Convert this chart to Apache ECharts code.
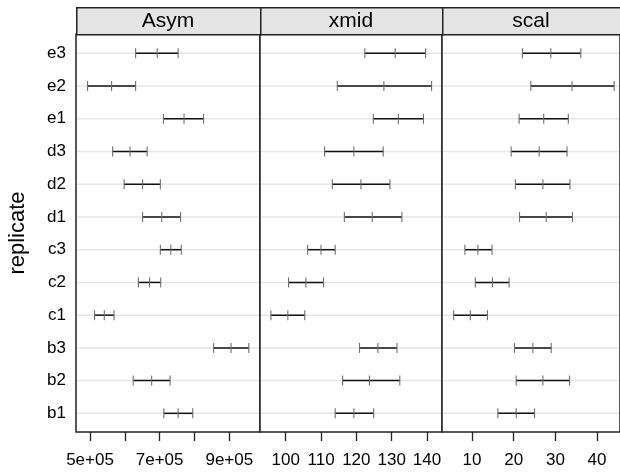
<!DOCTYPE html>
<html>
<head>
<meta charset="utf-8">
<script src="https://cdn.jsdelivr.net/npm/echarts@6/dist/echarts.min.js"></script>
<style>
  html, body { margin: 0; padding: 0; background: #fff; }
  #chart { width: 620px; height: 474px; }
</style>
</head>
<body>
<div id="chart"></div>
<script>
// Replicates, bottom to top
const categories = ['b1', 'b2', 'b3', 'c1', 'c2', 'c3', 'd1', 'd2', 'd3', 'e1', 'e2', 'e3'];

// 95% intervals per replicate: lower, estimate, upper
const asymLower = [712000, 624000, 855000, 513000, 639000, 702000, 651000, 598000, 565000, 711000, 493000, 631000];
const asymEst   = [753000, 677000, 905000, 541000, 671000, 732000, 706000, 651000, 615000, 770000, 562000, 693000];
const asymUpper = [795000, 730000, 956000, 569000, 703000, 762000, 760000, 702000, 664000, 826000, 631000, 753000];

const xmidLower = [114.0, 116.1, 120.9, 95.8, 100.8, 106.2, 116.6, 113.2, 111.0, 124.8, 114.6, 122.4];
const xmidEst   = [119.3, 123.7, 126.1, 100.6, 105.7, 110.0, 124.5, 121.3, 119.3, 131.9, 127.8, 131.0];
const xmidUpper = [124.9, 132.3, 131.5, 105.4, 110.7, 114.0, 132.9, 129.5, 127.6, 139.0, 141.3, 139.6];

const scalLower = [16.2, 20.6, 20.2, 5.6, 10.8, 8.3, 21.4, 20.4, 19.4, 21.3, 24.1, 22.1];
const scalEst   = [20.6, 27.0, 24.6, 9.6, 14.9, 11.4, 27.8, 27.0, 26.1, 27.2, 34.0, 28.9];
const scalUpper = [25.0, 33.4, 29.0, 13.7, 18.9, 14.8, 34.1, 33.5, 32.8, 33.1, 44.1, 36.1];

// Panel titles and axis ticks
const panelNames = ['Asym', 'xmid', 'scal'];
const asymTicks = [500000, 600000, 700000, 800000, 900000];
const asymTickLabels = [500000, 700000, 900000];
const xmidTicks = [100, 110, 120, 130, 140];
const scalTicks = [10, 20, 30, 40];

const panels = [
  { name: panelNames[0], lower: asymLower, est: asymEst, upper: asymUpper,
    min: 459800, max: 988100, ticks: asymTicks, labels: asymTickLabels,
    fmt: v => Math.round(v / 100000) + 'e+05', left: 76, width: 184 },
  { name: panelNames[1], lower: xmidLower, est: xmidEst, upper: xmidUpper,
    min: 92.72, max: 144.25, ticks: xmidTicks, labels: xmidTicks,
    fmt: v => String(v), left: 260, width: 182 },
  { name: panelNames[2], lower: scalLower, est: scalEst, upper: scalUpper,
    min: 2.8, max: 45.5, ticks: scalTicks, labels: scalTicks,
    fmt: v => String(v), left: 442, width: 178 }
];

const TOP = 34, BOTTOM = 42, STRIP_TOP = 7;
const FONT = '"Liberation Sans", Arial, sans-serif';
const rowPositions = categories.map((c, i) => i + 1);

function renderInterval(params, api) {
  const row = api.value(3);
  const y = api.coord([api.value(1), row])[1];
  const xl = api.coord([api.value(0), row])[0];
  const xm = api.coord([api.value(1), row])[0];
  const xu = api.coord([api.value(2), row])[0];
  const cs = params.coordSys;
  const tick = x => ({
    type: 'line',
    shape: { x1: x, y1: y - 5, x2: x, y2: y + 5 },
    style: { stroke: '#6e6e6e', lineWidth: 1.1 }
  });
  return {
    type: 'group',
    children: [
      { type: 'line', shape: { x1: cs.x + 1, y1: y, x2: cs.x + cs.width - 1, y2: y },
        style: { stroke: '#e6e6e6', lineWidth: 1.5 } },
      { type: 'line', shape: { x1: xl, y1: y, x2: xu, y2: y },
        style: { stroke: '#111', lineWidth: 1.5 } },
      tick(xl), tick(xm), tick(xu)
    ]
  };
}

const grids = [], xAxes = [], yAxes = [], series = [], graphics = [];
panels.forEach((p, k) => {
  grids.push({ left: p.left, width: p.width, top: TOP, bottom: BOTTOM,
    show: true, borderColor: '#222', borderWidth: 1.5, backgroundColor: '#fff' });
  xAxes.push({
    type: 'value', gridIndex: k, min: p.min, max: p.max,
    axisLine: { show: false },
    splitLine: { show: false },
    axisTick: { show: true, length: 9, customValues: p.ticks,
      lineStyle: { color: '#222', width: 1.3 } },
    axisLabel: { customValues: p.labels, formatter: p.fmt, margin: 20,
      color: '#000', fontSize: 17, fontFamily: FONT }
  });
  yAxes.push({
    type: 'value', gridIndex: k, min: 0.43, max: 12.59,
    axisLine: { show: false }, axisTick: { show: false }, splitLine: { show: false },
    axisLabel: k === 0 ? {
      customValues: rowPositions, formatter: v => categories[Math.round(v) - 1],
      margin: 10, color: '#000', fontSize: 17, fontFamily: FONT
    } : { show: false },
    name: k === 0 ? 'replicate' : '',
    nameLocation: 'middle', nameGap: 47, nameRotate: 90,
    nameTextStyle: { color: '#000', fontSize: 22, fontFamily: FONT }
  });
  series.push({
    type: 'custom', xAxisIndex: k, yAxisIndex: k,
    renderItem: renderInterval,
    encode: { x: [0, 1, 2], y: 3 },
    data: categories.map((c, i) => [p.lower[i], p.est[i], p.upper[i], rowPositions[i]]),
    silent: true
  });
  // panel strip with title
  graphics.push({
    type: 'rect', left: p.left, top: STRIP_TOP,
    shape: { width: p.width, height: TOP - STRIP_TOP },
    style: { fill: '#e5e5e5', stroke: '#222', lineWidth: 1.5 }
  });
  graphics.push({
    type: 'text', x: p.left + p.width / 2, y: (STRIP_TOP + TOP) / 2 + 1,
    style: { text: p.name, fill: '#000', font: '21px ' + FONT,
      textAlign: 'center', textVerticalAlign: 'middle' }
  });
});

const chart = echarts.init(document.getElementById('chart'), null, { renderer: 'canvas' });
chart.setOption({
  animation: false,
  backgroundColor: '#fff',
  grid: grids,
  xAxis: xAxes,
  yAxis: yAxes,
  series: series,
  graphic: graphics
});
</script>
</body>
</html>
